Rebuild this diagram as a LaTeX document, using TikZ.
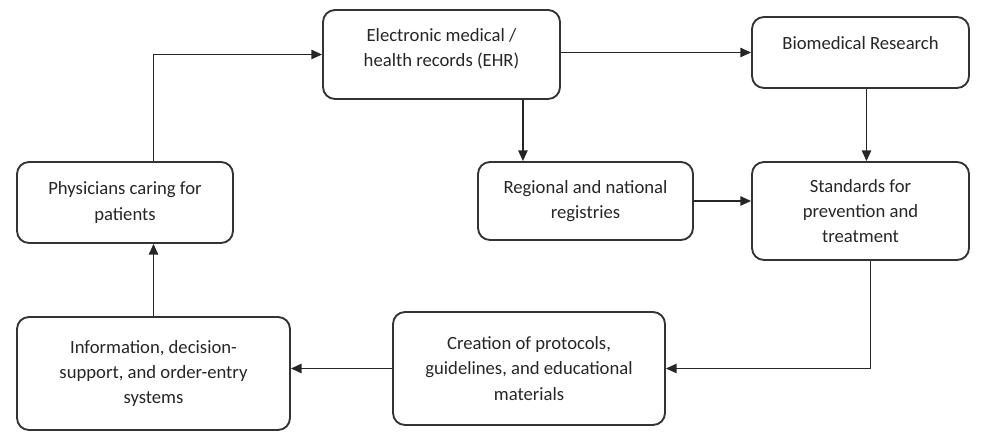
\documentclass[tikz,border=0pt]{standalone}
\usepackage{fontspec}
\setmainfont{Carlito}
\usetikzlibrary{arrows.meta}

\begin{document}
\begin{tikzpicture}[x=0.75pt,y=-0.75pt,
  box/.style={draw=black!80,line width=1.4pt,rounded corners=9pt,align=center,
    font=\fontsize{14}{19}\selectfont,text=black!85,inner sep=0pt},
  link/.style={draw=black!85,line width=1.1pt,-{Triangle[length=8pt,width=7pt]}}]
\useasboundingbox (0,0) rectangle (982,441);

\node[box,minimum width=162pt,minimum height=60.75pt] (phys) at (125,202.5) {Physicians caring for\\patients};
\node[box,minimum width=177.75pt,minimum height=66.75pt,text depth=10pt] (ehr) at (441.5,54.5) {Electronic medical /\\health records (EHR)};
\node[box,minimum width=162.75pt,minimum height=53.25pt,text depth=14pt] (bio) at (860.5,52.5) {Biomedical Research};
\node[box,minimum width=161.25pt,minimum height=58.5pt] (reg) at (585.5,201) {Regional and national\\registries};
\node[box,minimum width=162.75pt,minimum height=73.5pt] (std) at (860.5,211) {Standards for\\prevention and\\treatment};
\node[box,minimum width=204.75pt,minimum height=84.75pt] (info) at (153.5,373.5) {Information, decision-\\support, and order-entry\\systems};
\node[box,minimum width=204pt,minimum height=84.75pt] (crt) at (529,368.5) {Creation of protocols,\\guidelines, and educational\\materials};

\coordinate (ehrdown) at ([xshift=-28.5pt]ehr.south east);
\coordinate (biodown) at ([xshift=4.5pt]bio.south);
\coordinate (stddown) at ([xshift=7.5pt]std.south);

\draw[link] (info.north) -- (info.north |- phys.south);
\draw[link] (info.north |- phys.north) |- (ehr.west);
\draw[link] (ehr.east |- bio.west) -- (bio.west);
\draw[link] (ehrdown) -- (ehrdown |- reg.north);
\draw[link] (biodown) -- (biodown |- std.north);
\draw[link] (reg.east) -- (reg.east -| std.west);
\draw[link] (stddown) |- (crt.east);
\draw[link] (crt.west) -- (crt.west -| info.east);
\end{tikzpicture}
\end{document}
